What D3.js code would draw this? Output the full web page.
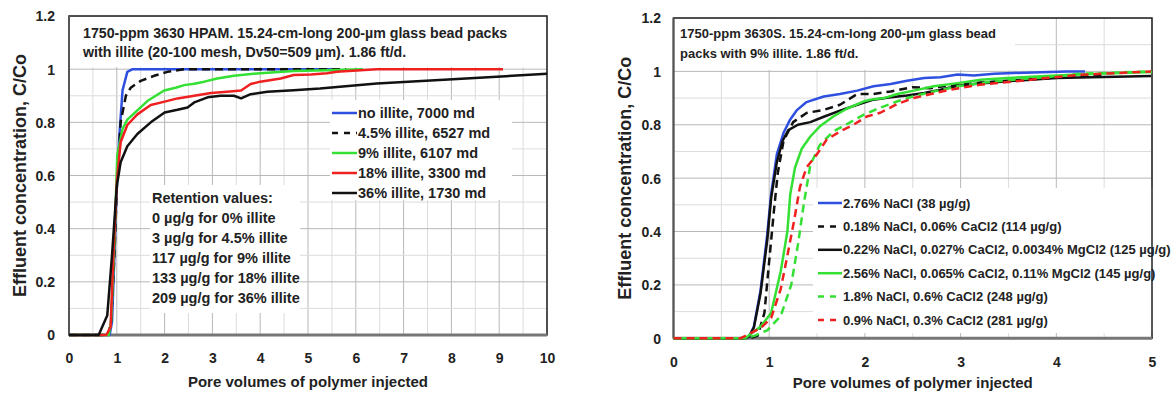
<!DOCTYPE html>
<html>
<head>
<meta charset="utf-8">
<script src="https://cdn.jsdelivr.net/npm/d3@7"></script>
<style>
body { margin: 0; background: #fff; }
text { font-family: "Liberation Sans", Arial, sans-serif; font-weight: bold; fill: #222; }
</style>
</head>
<body>
<svg id="svg1" width="1176" height="394"></svg>
<script>
// ---------- data: left chart (illite content) ----------
var leftNames = ["no illite, 7000 md", "4.5% illite, 6527 md", "9% illite, 6107 md",
                 "18% illite, 3300 md", "36% illite, 1730 md"];
var leftNoIllite = [[0,0],[0.85,0],[0.9,0.05],[0.95,0.3],[1.0,0.56],[1.05,0.74],[1.12,0.92],[1.22,0.99],[1.33,1.0],[5.5,1.0]];
var leftIllite45 = [[0,0],[0.82,0],[0.88,0.05],[0.95,0.3],[1.0,0.55],[1.08,0.8],[1.19,0.9],[1.29,0.93],[1.5,0.956],
                    [1.78,0.975],[2.06,0.99],[2.4,1.0],[5.8,1.0]];
var leftIllite9 = [[0,0],[0.83,0],[0.88,0.05],[0.95,0.35],[1.01,0.675],[1.12,0.775],[1.22,0.81],[1.43,0.845],[1.64,0.88],
                   [1.99,0.92],[2.23,0.93],[2.41,0.94],[2.62,0.945],[2.83,0.953],[3.1,0.965],[3.45,0.975],[4.0,0.985],
                   [4.7,0.993],[5.4,0.996],[6.15,1.0]];
var leftIllite18 = [[0,0],[0.78,0],[0.87,0.03],[0.93,0.3],[1.0,0.575],[1.08,0.725],[1.22,0.79],[1.43,0.83],[1.71,0.865],
                    [2.0,0.878],[2.27,0.89],[2.62,0.9],[2.97,0.91],[3.31,0.915],[3.6,0.92],[3.8,0.944],[4.0,0.953],
                    [4.43,0.965],[4.7,0.978],[5.06,0.98],[5.4,0.985],[5.6,0.99],[6.44,1.0],[9.08,1.0]];
var leftIllite36 = [[0,0],[0.62,0],[0.8,0.073],[0.9,0.3],[1.0,0.56],[1.08,0.65],[1.22,0.71],[1.43,0.756],[1.71,0.8],
                    [2.0,0.837],[2.27,0.847],[2.48,0.856],[2.62,0.875],[2.9,0.894],[3.17,0.9],[3.45,0.9],[3.6,0.89],
                    [3.8,0.906],[4.15,0.915],[4.7,0.921],[5.25,0.927],[6.44,0.946],[8.03,0.962],[10,0.983]];
var leftTitle = ["1750-ppm 3630 HPAM. 15.24-cm-long 200-\u00b5m glass bead packs",
                 "with illite (20-100 mesh, Dv50=509 \u00b5m). 1.86 ft/d."];
var leftRetention = ["Retention values:", "0 \u00b5g/g for 0% illite", "3 \u00b5g/g for 4.5% illite",
                     "117 \u00b5g/g for 9% illite", "133 \u00b5g/g for 18% illite", "209 \u00b5g/g for 36% illite"];
var leftXTicks = [0,1,2,3,4,5,6,7,8,9,10];

// ---------- data: right chart (brine composition) ----------
var rightNames = ["2.76% NaCl (38 \u00b5g/g)",
                  "0.18% NaCl, 0.06% CaCl2 (114 \u00b5g/g)",
                  "0.22% NaCl, 0.027% CaCl2, 0.0034% MgCl2 (125 \u00b5g/g)",
                  "2.56% NaCl, 0.065% CaCl2, 0.11% MgCl2 (145 \u00b5g/g)",
                  "1.8% NaCl, 0.6% CaCl2 (248 \u00b5g/g)",
                  "0.9% NaCl, 0.3% CaCl2 (281 \u00b5g/g)"];
var rightNaCl276 = [[0,0],[0.7,0],[0.79,0.006],[0.84,0.044],[0.91,0.18],[0.98,0.39],[1.02,0.54],[1.08,0.69],[1.15,0.77],
                    [1.22,0.82],[1.29,0.855],[1.39,0.885],[1.57,0.906],[1.74,0.915],[1.92,0.928],[2.09,0.944],[2.27,0.953],
                    [2.44,0.965],[2.62,0.975],[2.79,0.978],[2.97,0.988],[3.14,0.985],[3.35,0.991],[3.55,0.994],[4.11,1.0],[4.3,1.0]];
var rightNaCl018 = [[0,0],[0.8,0],[0.88,0.01],[0.95,0.095],[1.0,0.29],[1.05,0.48],[1.09,0.62],[1.15,0.74],[1.25,0.81],
                    [1.39,0.844],[1.57,0.856],[1.74,0.875],[1.92,0.915],[2.09,0.915],[2.27,0.925],[2.5,0.941],[2.68,0.937],
                    [2.86,0.946],[3.2,0.958],[3.6,0.968],[4.0,0.976],[4.5,0.985]];
var rightNaCl022 = [[0,0],[0.72,0],[0.79,0.006],[0.84,0.04],[0.91,0.17],[0.98,0.37],[1.02,0.525],[1.08,0.66],[1.14,0.74],
                    [1.2,0.78],[1.3,0.8],[1.43,0.81],[1.57,0.83],[1.74,0.853],[1.92,0.875],[2.09,0.894],[2.27,0.903],
                    [2.44,0.91],[2.62,0.919],[2.79,0.931],[2.97,0.946],[3.14,0.953],[3.49,0.963],[4.0,0.975],[4.99,0.983]];
var rightNaCl256 = [[0,0],[0.7,0],[0.77,0.006],[0.91,0.044],[1.02,0.095],[1.12,0.25],[1.19,0.4],[1.22,0.54],[1.27,0.64],
                    [1.34,0.71],[1.43,0.756],[1.53,0.794],[1.67,0.831],[1.81,0.86],[1.99,0.888],[2.09,0.896],[2.2,0.9],
                    [2.34,0.915],[2.51,0.928],[2.72,0.944],[2.97,0.956],[3.21,0.969],[3.49,0.975],[4.0,0.985],[4.5,0.992],[5.0,0.998]];
var rightNaCl18 = [[0,0],[0.17,0],[0.75,0],[0.85,0.01],[0.98,0.03],[1.12,0.083],[1.23,0.2],[1.3,0.35],[1.36,0.5],[1.43,0.65],
                   [1.53,0.725],[1.67,0.775],[1.85,0.81],[1.99,0.838],[2.16,0.864],[2.34,0.888],[2.5,0.906],[2.72,0.925],
                   [2.97,0.944],[3.2,0.956],[3.55,0.969],[3.9,0.979],[4.25,0.991],[4.99,1.0]];
var rightNaCl09 = [[0,0],[0.17,0],[0.7,0],[0.77,0.013],[0.91,0.038],[1.02,0.076],[1.12,0.184],[1.19,0.31],[1.26,0.44],
                   [1.32,0.565],[1.39,0.64],[1.5,0.69],[1.6,0.744],[1.74,0.775],[1.88,0.8],[2.02,0.831],[2.16,0.845],
                   [2.34,0.878],[2.51,0.9],[2.69,0.915],[2.9,0.932],[3.2,0.95],[3.55,0.962],[3.9,0.975],[4.25,0.987],[4.99,1.0]];
var rightTitle = ["1750-ppm 3630S. 15.24-cm-long 200-\u00b5m glass bead",
                  "packs with 9% illite. 1.86 ft/d."];
var rightXTicks = [0,1,2,3,4,5];

var yTicks = [0,0.2,0.4,0.6,0.8,1,1.2];
var yTitle = "Effluent concentration, C/Co";
var xTitle = "Pore volumes of polymer injected";

// ---------- styles ----------
var blue = "#2f4fe0", green = "#33e033", red = "#ee2020", black = "#111";

var svg = d3.select("#svg1");
svg.append("rect").attr("width", 1176).attr("height", 394).attr("fill", "#fff");

function drawChart(cfg) {
  var g = svg.append("g");
  var x = d3.scaleLinear().domain([0, cfg.xMax]).range([cfg.left, cfg.right]);
  var y = d3.scaleLinear().domain([0, 1.2]).range([cfg.bottom, cfg.top]);

  // gridlines (minor then major)
  var xMinor = d3.range(0, cfg.xMax + 0.001, 0.5);
  var yMinor = d3.range(0, 1.2001, 0.1);
  g.selectAll(".vminor").data(xMinor).enter().append("line")
    .attr("x1", d => x(d)).attr("x2", d => x(d)).attr("y1", y(0)).attr("y2", y(1.2))
    .attr("stroke", d => Math.abs(d - Math.round(d)) < 1e-6 ? "#b8b8b8" : "#dcdcdc").attr("stroke-width", 1);
  g.selectAll(".hminor").data(yMinor).enter().append("line")
    .attr("x1", x(0)).attr("x2", x(cfg.xMax)).attr("y1", d => y(d)).attr("y2", d => y(d))
    .attr("stroke", d => Math.abs(d * 5 - Math.round(d * 5)) < 1e-6 ? "#b8b8b8" : "#dcdcdc").attr("stroke-width", 1);

  // white boxes for annotations
  cfg.boxes.forEach(function(b) {
    g.append("rect").attr("x", b[0]).attr("y", b[1]).attr("width", b[2]).attr("height", b[3]).attr("fill", "#fff");
  });

  // frame
  g.append("rect").attr("x", x(0)).attr("y", y(1.2)).attr("width", x(cfg.xMax) - x(0)).attr("height", y(0) - y(1.2))
    .attr("fill", "none").attr("stroke", "#222").attr("stroke-width", 1.5);
  g.append("line").attr("x1", x(0)).attr("x2", x(cfg.xMax)).attr("y1", y(0)).attr("y2", y(0))
    .attr("stroke", "#777").attr("stroke-width", 3);
  g.append("line").attr("x1", x(0)).attr("x2", x(0)).attr("y1", y(0)).attr("y2", y(1.2))
    .attr("stroke", "#555").attr("stroke-width", 2);

  // axes labels
  var xAxis = d3.axisBottom(x).tickValues(cfg.xTicks).tickSize(0).tickPadding(0).tickFormat(d3.format("d"));
  var ax = g.append("g").attr("transform", "translate(0," + cfg.xLabelY + ")").call(xAxis);
  ax.select(".domain").remove();
  ax.selectAll("text").attr("font-size", 14).attr("font-family", null).attr("fill", "#222").attr("dy", "0.35em");

  var yAxis = d3.axisLeft(y).tickValues(yTicks).tickSize(0).tickPadding(0).tickFormat(d3.format("~g"));
  var ay = g.append("g").attr("transform", "translate(" + cfg.yLabelX + ",0)").call(yAxis);
  ay.select(".domain").remove();
  ay.selectAll("text").attr("font-size", 14).attr("font-family", null).attr("fill", "#222").attr("dy", "0.35em");

  g.append("text").attr("transform", "translate(" + cfg.yTitleX + "," + ((y(0) + y(1.2)) / 2) + ") rotate(-90)")
    .attr("text-anchor", "middle").attr("dy", "0.35em").attr("font-size", 18).text(yTitle);
  g.append("text").attr("x", (x(0) + x(cfg.xMax)) / 2).attr("y", cfg.xTitleY)
    .attr("text-anchor", "middle").attr("dy", "0.35em").attr("font-size", 15).text(xTitle);

  // title text
  cfg.title.forEach(function(t, i) {
    g.append("text").attr("x", cfg.titleX).attr("y", cfg.titleY + i * cfg.titleStep)
      .attr("dy", "0.35em").attr("font-size", cfg.titleSize).text(t);
  });

  // curves
  var line = d3.line().x(d => x(d[0])).y(d => y(d[1]));
  cfg.series.forEach(function(s, i) {
    g.append("path").datum(s).attr("d", line).attr("fill", "none")
      .attr("stroke", cfg.colors[i]).attr("stroke-width", 2.5)
      .attr("stroke-dasharray", cfg.dashes[i]).attr("stroke-linejoin", "round");
  });

  // legend
  cfg.names.forEach(function(n, i) {
    var ly = cfg.legY + i * cfg.legStep;
    g.append("line").attr("x1", cfg.legX).attr("x2", cfg.legX + cfg.legLen).attr("y1", ly).attr("y2", ly)
      .attr("stroke", cfg.colors[i]).attr("stroke-width", 2.5).attr("stroke-dasharray", cfg.legDashes[i]);
    g.append("text").attr("x", cfg.legX + cfg.legLen + 1).attr("y", ly).attr("dy", "0.35em")
      .attr("font-size", cfg.legSize).text(n);
  });

  return g;
}

var gl = drawChart({
  xMax: 10, left: 69, right: 547, top: 16, bottom: 335,
  xTicks: leftXTicks, xLabelY: 358, yLabelX: 55, yTitleX: 20, xTitleY: 382,
  title: leftTitle, titleX: 83, titleY: 33, titleStep: 19, titleSize: 14.2,
  boxes: [[70, 17, 476, 50], [330, 100, 182, 100], [150, 185, 150, 128]],
  series: [leftNoIllite, leftIllite45, leftIllite9, leftIllite18, leftIllite36],
  names: leftNames, colors: [blue, black, green, red, black],
  dashes: [null, "8,5", null, null, null],
  legDashes: [null, "6,6", null, null, null],
  legX: 332, legLen: 25, legY: 113, legStep: 20, legSize: 14.5
});

leftRetention.forEach(function(t, i) {
  gl.append("text").attr("x", 152).attr("y", 198 + i * 20).attr("dy", "0.35em").attr("font-size", 14.5).text(t);
});

drawChart({
  xMax: 5, left: 673.5, right: 1152, top: 18, bottom: 338.3,
  xTicks: rightXTicks, xLabelY: 362, yLabelX: 661, yTitleX: 625, xTitleY: 383,
  title: rightTitle, titleX: 680, titleY: 33, titleStep: 20, titleSize: 13,
  boxes: [[674, 19, 341, 51], [813, 188, 363, 145]],
  series: [rightNaCl276, rightNaCl018, rightNaCl022, rightNaCl256, rightNaCl18, rightNaCl09],
  names: rightNames, colors: [blue, black, black, green, green, red],
  dashes: [null, "8,5", null, null, "8,5", "8,5"],
  legDashes: [null, "6,6", null, null, "6,6", "6,6"],
  legX: 818, legLen: 24, legY: 203, legStep: 23.4, legSize: 13
});
</script>
</body>
</html>
